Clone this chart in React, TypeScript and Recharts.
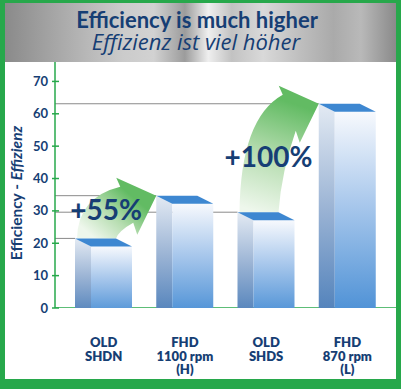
import React from 'react';
import { Bar, BarChart, XAxis, YAxis } from 'recharts';

const categories = ['OLD\nSHDN', 'FHD\n1100 rpm\n(H)', 'OLD\nSHDS', 'FHD\n870 rpm\n(L)'];
const efficiency = [21.5, 34.7, 29.6, 63.1];
const gains = ['', '+55%', '', '+100%'];
const yTicks = [0, 10, 20, 30, 40, 50, 60, 70];

const data = categories.map((name, i) => ({ name, value: efficiency[i] }));

const W = 401;
const H = 389;
const MARGIN = { top: 62, right: 21, bottom: 51, left: 5 };
const Y_AXIS_W = 50;
const PLOT_LEFT = MARGIN.left + Y_AXIS_W;
const PLOT_RIGHT = W - MARGIN.right;
const STEP = (PLOT_RIGHT - PLOT_LEFT) / categories.length;
const BAR_W = 41;
const DX = 16;
const DY = 8;
const NAVY = '#163e74';
const GREEN = '#27a84b';
const FONT = 'Lato, "Open Sans", sans-serif';

// gray guide line from the axis to the back corner of each box, zero line under bar 0
const GuideLine = (props: any) => {
  const { x, y, height, index } = props;
  return (
    <g>
      {index === 0 && (
        <line x1={PLOT_LEFT} y1={y + height} x2={396} y2={y + height} stroke={GREEN} strokeWidth={1.5} />
      )}
      <line x1={PLOT_LEFT} y1={y} x2={x} y2={y} stroke="#8a8a8a" strokeWidth={1} />
    </g>
  );
};

const GainArrow = (props: any) => {
  const { x, y, height, index, value } = props;
  if (!gains[index]) return null;
  const base = y + height;
  const sx = x - STEP;
  const sy = base - efficiency[index - 1] * (height / value);
  const tx = x;
  const ty = y;
  const a1 = [tx - 36, ty - 9];
  const b1 = [tx - 40, ty - 18];
  const b2 = [tx - 19, ty + 39];
  const a2 = [tx - 23, ty + 27];
  const l0 = [sx + 2, sy];
  const r0 = [sx + BAR_W, sy];
  const c1 = [sx + 3, a1[1] + 0.2 * (sy - a1[1])];
  const c2 = [r0[0] + 3, a2[1] + 0.5 * (sy - a2[1])];
  const d = `M${l0} Q${c1} ${a1} L${b1} L${tx},${ty} L${b2} L${a2} Q${c2} ${r0} Z`;
  const gid = `arrowGrad${index}`;
  return (
    <g>
      <defs>
        <linearGradient id={gid} gradientUnits="userSpaceOnUse" x1={sx + 20} y1={sy} x2={tx - 25} y2={ty}>
          <stop offset="0" stopColor="#eef7ec" />
          <stop offset="0.5" stopColor="#b6ddb0" />
          <stop offset="1" stopColor="#62bb63" />
        </linearGradient>
      </defs>
      <path d={d} fill={`url(#${gid})`} />
      <text
        x={sx + 31}
        y={sy - 0.42 * (sy - ty)}
        textAnchor="middle"
        fill={NAVY}
        fontFamily={FONT}
        fontWeight={700}
        fontSize={28}
      >
        {gains[index]}
      </text>
    </g>
  );
};

const Box3D = (props: any) => {
  const { x, y, width, height } = props;
  return (
    <g>
      <polygon
        points={`${x},${y} ${x + DX},${y + DY} ${x + DX},${y + height + DY} ${x},${y + height}`}
        fill="url(#sideGrad)"
      />
      <rect x={x + DX} y={y + DY} width={width} height={height} fill="url(#frontGrad)" />
      <polygon
        points={`${x},${y} ${x + width},${y} ${x + width + DX},${y + DY} ${x + DX},${y + DY}`}
        fill="#3d87d1"
      />
    </g>
  );
};

const YTick = (props: any) => {
  const { y, payload } = props;
  return (
    <g>
      <line x1={PLOT_LEFT - 3} y1={y} x2={PLOT_LEFT + 4} y2={y} stroke={GREEN} strokeWidth={1.5} />
      <text x={PLOT_LEFT - 7} y={y + 4.5} textAnchor="end" fill={NAVY} fontFamily={FONT} fontWeight={700} fontSize={13}>
        {payload.value}
      </text>
    </g>
  );
};

const XTick = (props: any) => {
  const { x, payload } = props;
  const lines = String(payload.value).split('\n');
  const top = H - MARGIN.bottom - 30 + 39;
  return (
    <text x={x + DX / 2} textAnchor="middle" fill={NAVY} fontFamily={FONT} fontWeight={800} fontSize={13}>
      {lines.map((l, i) => (
        <tspan key={i} x={x + DX / 2} y={top + i * 13.5}>
          {l}
        </tspan>
      ))}
    </text>
  );
};

export default function App() {
  return (
    <div style={{ position: 'absolute', left: 0, top: 0, width: W, height: H }}>
      <svg width={W} height={H} style={{ position: 'absolute', left: 0, top: 0 }}>
        <defs>
          <linearGradient id="silver" x1="0" y1="0" x2="1" y2="0">
            <stop offset="0" stopColor="#8a8a8a" />
            <stop offset="0.15" stopColor="#ababab" />
            <stop offset="0.3" stopColor="#cbcbcb" />
            <stop offset="0.38" stopColor="#d2d2d2" />
            <stop offset="0.46" stopColor="#9c9c9c" />
            <stop offset="0.52" stopColor="#efefef" />
            <stop offset="0.58" stopColor="#c2c2c2" />
            <stop offset="0.66" stopColor="#d9d9d9" />
            <stop offset="0.76" stopColor="#bdbdbd" />
            <stop offset="0.84" stopColor="#aaaaaa" />
            <stop offset="0.91" stopColor="#b9b9b9" />
            <stop offset="1" stopColor="#8a8a8a" />
          </linearGradient>
        </defs>
        <rect x={0} y={0} width={W} height={H} fill={GREEN} />
        <rect x={5} y={3} width={391} height={376} fill="#ffffff" />
        <rect x={5} y={3} width={391} height={59} fill="url(#silver)" />
        <text x={197} y={28} textAnchor="middle" fill={NAVY} fontFamily={FONT} fontWeight={700} fontSize={22}>
          Efficiency is much higher
        </text>
        <text
          x={196}
          y={50}
          textAnchor="middle"
          fill={NAVY}
          fontFamily='"Open Sans", sans-serif'
          fontStyle="italic"
          fontWeight={500}
          fontSize={22}
        >
          Effizienz ist viel höher
        </text>
        <text
          x={0}
          y={0}
          transform="translate(22,193) rotate(-90)"
          textAnchor="middle"
          fill={NAVY}
          fontFamily={FONT}
          fontWeight={700}
          fontSize={15.5}
        >
          Efficiency - <tspan fontStyle="italic">Effizienz</tspan>
        </text>
      </svg>
      <div style={{ position: 'absolute', left: 0, top: 0 }}>
        <BarChart width={W} height={H} data={data} margin={MARGIN}>
          <defs>
            <linearGradient id="frontGrad" x1="0" y1="0" x2="0" y2="1">
              <stop offset="0" stopColor="#f7f9fd" />
              <stop offset="0.45" stopColor="#a9c8ec" />
              <stop offset="1" stopColor="#4a8fd5" />
            </linearGradient>
            <linearGradient id="sideGrad" x1="0" y1="0" x2="0" y2="1">
              <stop offset="0" stopColor="#e3eaf3" />
              <stop offset="0.5" stopColor="#9ab3d4" />
              <stop offset="1" stopColor="#4f80ba" />
            </linearGradient>
          </defs>
          <XAxis xAxisId="lines" dataKey="name" hide />
          <XAxis xAxisId="arrows" dataKey="name" hide />
          <XAxis
            xAxisId="boxes"
            dataKey="name"
            height={30}
            interval={0}
            axisLine={false}
            tickLine={false}
            tick={<XTick />}
          />
          <YAxis
            domain={[0, 76]}
            ticks={yTicks}
            width={Y_AXIS_W}
            allowDataOverflow
            axisLine={{ stroke: GREEN, strokeWidth: 1.5 }}
            tickLine={false}
            tick={<YTick />}
          />
          <Bar xAxisId="lines" dataKey="value" barSize={BAR_W} isAnimationActive={false} shape={<GuideLine />} />
          <Bar xAxisId="arrows" dataKey="value" barSize={BAR_W} isAnimationActive={false} shape={<GainArrow />} />
          <Bar xAxisId="boxes" dataKey="value" barSize={BAR_W} isAnimationActive={false} shape={<Box3D />} />
        </BarChart>
      </div>
    </div>
  );
}
